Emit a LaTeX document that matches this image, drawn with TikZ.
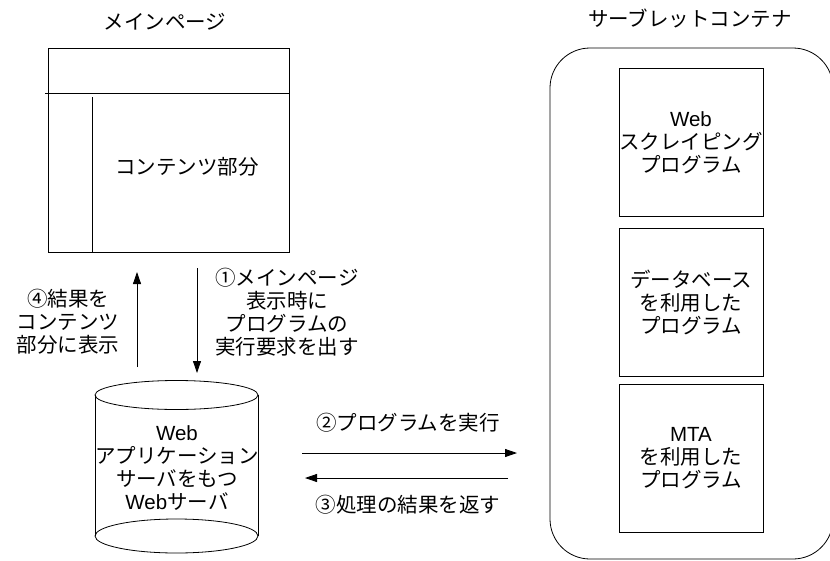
\documentclass[tikz,border=0pt]{standalone}
\usepackage{fontspec}
\setmainfont{Noto Sans CJK JP}
\newfontfamily\latfont{Liberation Sans}
\usetikzlibrary{positioning,arrows.meta}

\begin{document}
\begin{tikzpicture}[x=1pt,y=-1pt]
              \tikzstyle{every node}+=[inner sep=0pt, align=center, font=\fontsize{20.5}{23}\selectfont]
              \tikzstyle{progbox}=[draw=black, line width=0.8pt, minimum width=144pt, minimum height=148pt]
              \tikzstyle{flow}=[black, line width=0.8pt, -{Triangle[length=12pt,width=8pt]}]
              \useasboundingbox (0,0) rectangle (830,560);
              \node (pagetitle) at (165,22) {メインページ};
              \node [draw=black, line width=0.8pt, minimum width=241pt, minimum height=204pt] (mainpage) at (168.5,150) {};
              \draw [black, line width=0.8pt] (45,93) -- (mainpage.east |- 0,93);
              \draw [black, line width=0.8pt] (92,97) -- (mainpage.south -| 92,0);
              \node (contents) at (187,167) {コンテンツ部分};
              \node (containertitle) at (690,18) {サーブレットコンテナ};
              \node [draw=black, line width=0.8pt, rounded corners=40pt, minimum width=283pt, minimum height=511pt] (container) at (691.5,303.5) {};
              \node [progbox] (scraping) at (691,142.5) {{\latfont Web}\\スクレイピング\\プログラム};
              \node [progbox] (dbprog) at (691,302.5) {データベース\\を利用した\\プログラム};
              \node [progbox] (mtaprog) at (691,458) {{\latfont MTA}\\を利用した\\プログラム};
              \draw [black, line width=0.8pt] (95,395) -- (95,536);
              \draw [black, line width=0.8pt] (258,395) -- (258,536);
              \draw [black, line width=0.8pt] (176.5,395) ellipse [x radius=81.5pt, y radius=14.5pt];
              \draw [black, line width=0.8pt] (176.5,536) ellipse [x radius=81.5pt, y radius=17pt];
              \node (server) at (177,468.5) {{\latfont Web}\\アプリケーション\\サーバをもつ\\{\latfont Web}サーバ};
              \coordinate (upfrom) at (137,367);
              \coordinate (upto) at (137,272);
              \coordinate (downfrom) at (197,268);
              \coordinate (downto) at (197,373);
              \coordinate (runfrom) at (302,453);
              \coordinate (runto) at (517,453);
              \coordinate (backfrom) at (508,478);
              \coordinate (backto) at (305,478);
              \draw [flow] (upfrom) -- (upto);
              \draw [flow] (downfrom) -- (downto);
              \draw [flow] (runfrom) -- (runto);
              \draw [flow] (backfrom) -- (backto);
              \node (showresult) at (68,322) {④結果を\\コンテンツ\\部分に表示};
              \node (request) at (287,312) {①メインページ\\表示時に\\プログラムの\\実行要求を出す};
              \node (runlabel) at (408,423) {②プログラムを実行};
              \node (backlabel) at (408,505) {③処理の結果を返す};
            \end{tikzpicture}
\end{document}
